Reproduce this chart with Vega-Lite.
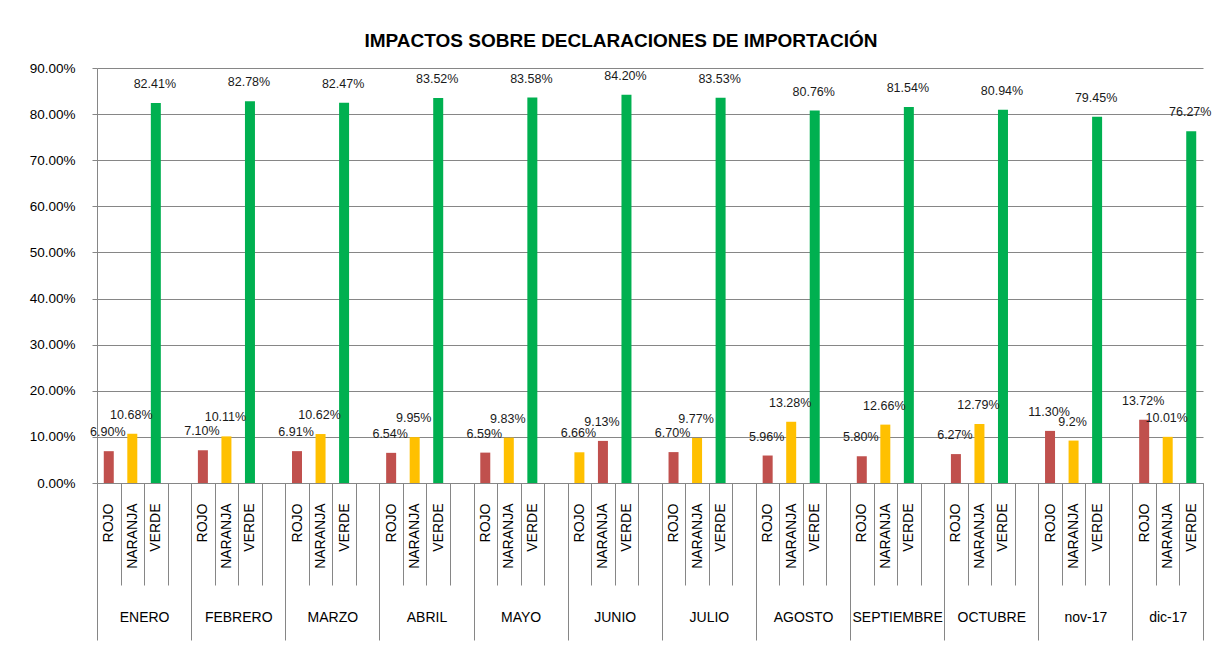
{
  "$schema": "https://vega.github.io/schema/vega-lite/v6.json",
  "width": 1106,
  "height": 415,
  "autosize": {"type": "none"},
  "padding": {"left": 97, "top": 68, "right": 10, "bottom": 164},
  "background": "white",
  "title": {
    "text": "IMPACTOS SOBRE DECLARACIONES DE IMPORTACIÓN",
    "anchor": "middle",
    "frame": "group",
    "offset": 10,
    "dx": -29,
    "font": "Liberation Sans",
    "fontSize": 19,
    "fontWeight": "bold",
    "color": "#000000"
  },
  "config": {
    "view": {"stroke": null},
    "axis": {"labelFont": "Liberation Sans", "labelColor": "#000000", "domainColor": "#868686", "tickColor": "#868686", "gridColor": "#868686", "titleFont": "Liberation Sans"}
  },
  "data": {
    "values": [
      {"slot": "ENERO|ROJO", "nivel": "Rojo", "valor": 0.069, "etiqueta": "6.90%"},
      {"slot": "ENERO|NARANJA", "nivel": "Naranja", "valor": 0.1068, "etiqueta": "10.68%"},
      {"slot": "ENERO|VERDE", "nivel": "Verde", "valor": 0.8241, "etiqueta": "82.41%"},
      {"slot": "FEBRERO|ROJO", "nivel": "Rojo", "valor": 0.071, "etiqueta": "7.10%"},
      {"slot": "FEBRERO|NARANJA", "nivel": "Naranja", "valor": 0.1011, "etiqueta": "10.11%"},
      {"slot": "FEBRERO|VERDE", "nivel": "Verde", "valor": 0.8278, "etiqueta": "82.78%"},
      {"slot": "MARZO|ROJO", "nivel": "Rojo", "valor": 0.0691, "etiqueta": "6.91%"},
      {"slot": "MARZO|NARANJA", "nivel": "Naranja", "valor": 0.1062, "etiqueta": "10.62%"},
      {"slot": "MARZO|VERDE", "nivel": "Verde", "valor": 0.8247, "etiqueta": "82.47%"},
      {"slot": "ABRIL|ROJO", "nivel": "Rojo", "valor": 0.0654, "etiqueta": "6.54%"},
      {"slot": "ABRIL|NARANJA", "nivel": "Naranja", "valor": 0.0995, "etiqueta": "9.95%"},
      {"slot": "ABRIL|VERDE", "nivel": "Verde", "valor": 0.8352, "etiqueta": "83.52%"},
      {"slot": "MAYO|ROJO", "nivel": "Rojo", "valor": 0.0659, "etiqueta": "6.59%"},
      {"slot": "MAYO|NARANJA", "nivel": "Naranja", "valor": 0.0983, "etiqueta": "9.83%"},
      {"slot": "MAYO|VERDE", "nivel": "Verde", "valor": 0.8358, "etiqueta": "83.58%"},
      {"slot": "JUNIO|ROJO", "nivel": "Naranja", "valor": 0.0666, "etiqueta": "6.66%"},
      {"slot": "JUNIO|NARANJA", "nivel": "Rojo", "valor": 0.0913, "etiqueta": "9.13%"},
      {"slot": "JUNIO|VERDE", "nivel": "Verde", "valor": 0.842, "etiqueta": "84.20%"},
      {"slot": "JULIO|ROJO", "nivel": "Rojo", "valor": 0.067, "etiqueta": "6.70%"},
      {"slot": "JULIO|NARANJA", "nivel": "Naranja", "valor": 0.0977, "etiqueta": "9.77%"},
      {"slot": "JULIO|VERDE", "nivel": "Verde", "valor": 0.8353, "etiqueta": "83.53%"},
      {"slot": "AGOSTO|ROJO", "nivel": "Rojo", "valor": 0.0596, "etiqueta": "5.96%"},
      {"slot": "AGOSTO|NARANJA", "nivel": "Naranja", "valor": 0.1328, "etiqueta": "13.28%"},
      {"slot": "AGOSTO|VERDE", "nivel": "Verde", "valor": 0.8076, "etiqueta": "80.76%"},
      {"slot": "SEPTIEMBRE|ROJO", "nivel": "Rojo", "valor": 0.058, "etiqueta": "5.80%"},
      {"slot": "SEPTIEMBRE|NARANJA", "nivel": "Naranja", "valor": 0.1266, "etiqueta": "12.66%"},
      {"slot": "SEPTIEMBRE|VERDE", "nivel": "Verde", "valor": 0.8154, "etiqueta": "81.54%"},
      {"slot": "OCTUBRE|ROJO", "nivel": "Rojo", "valor": 0.0627, "etiqueta": "6.27%"},
      {"slot": "OCTUBRE|NARANJA", "nivel": "Naranja", "valor": 0.1279, "etiqueta": "12.79%"},
      {"slot": "OCTUBRE|VERDE", "nivel": "Verde", "valor": 0.8094, "etiqueta": "80.94%"},
      {"slot": "nov-17|ROJO", "nivel": "Rojo", "valor": 0.113, "etiqueta": "11.30%"},
      {"slot": "nov-17|NARANJA", "nivel": "Naranja", "valor": 0.092, "etiqueta": "9.2%"},
      {"slot": "nov-17|VERDE", "nivel": "Verde", "valor": 0.7945, "etiqueta": "79.45%"},
      {"slot": "dic-17|ROJO", "nivel": "Rojo", "valor": 0.1372, "etiqueta": "13.72%"},
      {"slot": "dic-17|NARANJA", "nivel": "Naranja", "valor": 0.1001, "etiqueta": "10.01%"},
      {"slot": "dic-17|VERDE", "nivel": "Verde", "valor": 0.7627, "etiqueta": "76.27%"}
    ]
  },
  "resolve": {"axis": {"x": "independent"}},
  "layer": [
    {
      "mark": {"type": "bar", "size": 10},
      "encoding": {
        "x": {
          "field": "slot",
          "type": "nominal",
          "sort": null,
          "scale": {
            "type": "band",
            "paddingInner": 0,
            "paddingOuter": 0,
            "domain": [
              "ENERO|ROJO", "ENERO|NARANJA", "ENERO|VERDE", "ENERO|_",
              "FEBRERO|ROJO", "FEBRERO|NARANJA", "FEBRERO|VERDE", "FEBRERO|_",
              "MARZO|ROJO", "MARZO|NARANJA", "MARZO|VERDE", "MARZO|_",
              "ABRIL|ROJO", "ABRIL|NARANJA", "ABRIL|VERDE", "ABRIL|_",
              "MAYO|ROJO", "MAYO|NARANJA", "MAYO|VERDE", "MAYO|_",
              "JUNIO|ROJO", "JUNIO|NARANJA", "JUNIO|VERDE", "JUNIO|_",
              "JULIO|ROJO", "JULIO|NARANJA", "JULIO|VERDE", "JULIO|_",
              "AGOSTO|ROJO", "AGOSTO|NARANJA", "AGOSTO|VERDE", "AGOSTO|_",
              "SEPTIEMBRE|ROJO", "SEPTIEMBRE|NARANJA", "SEPTIEMBRE|VERDE", "SEPTIEMBRE|_",
              "OCTUBRE|ROJO", "OCTUBRE|NARANJA", "OCTUBRE|VERDE", "OCTUBRE|_",
              "nov-17|ROJO", "nov-17|NARANJA", "nov-17|VERDE", "nov-17|_",
              "dic-17|ROJO", "dic-17|NARANJA", "dic-17|VERDE"
            ]
          },
          "axis": {
            "orient": "bottom",
            "title": null,
            "domain": true,
            "grid": false,
            "ticks": true,
            "tickBand": "extent",
            "tickSize": 102,
            "labelAngle": -90,
            "labelPadding": -82,
            "labelFontSize": 14,
            "labelExpr": "split(datum.value, '|')[1] == '_' ? '' : split(datum.value, '|')[1]"
          }
        },
        "y": {
          "field": "valor",
          "type": "quantitative",
          "scale": {"domain": [0, 0.9], "nice": false},
          "axis": {
            "title": null,
            "format": ".2%",
            "values": [0, 0.1, 0.2, 0.3, 0.4, 0.5, 0.6, 0.7, 0.8, 0.9],
            "grid": true,
            "tickSize": 5,
            "labelPadding": 17,
            "labelFontSize": 13.5
          }
        },
        "color": {
          "field": "nivel",
          "type": "nominal",
          "scale": {"domain": ["Rojo", "Naranja", "Verde"], "range": ["#C0504D", "#FFC000", "#00B050"]},
          "legend": null
        }
      }
    },
    {
      "mark": {"type": "text", "baseline": "middle", "align": "center", "dy": -19, "dx": -1, "font": "Liberation Sans", "fontSize": 12.5, "color": "#1a1a1a"},
      "encoding": {
        "x": {
          "field": "slot",
          "type": "nominal",
          "sort": null,
          "axis": {
            "orient": "bottom",
            "title": null,
            "domain": false,
            "grid": false,
            "ticks": true,
            "tickBand": "extent",
            "tickSize": 157,
            "tickOpacity": {"condition": {"test": "datum.extra || !datum.value || split(datum.value, '|')[1] == '_' || datum.value == 'dic-17|VERDE'", "value": 1}, "value": 0},
            "labelAngle": 0,
            "labelPadding": -30,
            "labelFontSize": 14,
            "labelOffset": {"condition": {"test": "datum.value == 'dic-17|NARANJA'", "value": 0}, "value": 11.8},
            "labelExpr": "split(datum.value, '|')[1] == 'NARANJA' ? split(datum.value, '|')[0] : ''"
          }
        },
        "y": {"field": "valor", "type": "quantitative"},
        "text": {"field": "etiqueta", "type": "nominal"}
      }
    }
  ]
}
